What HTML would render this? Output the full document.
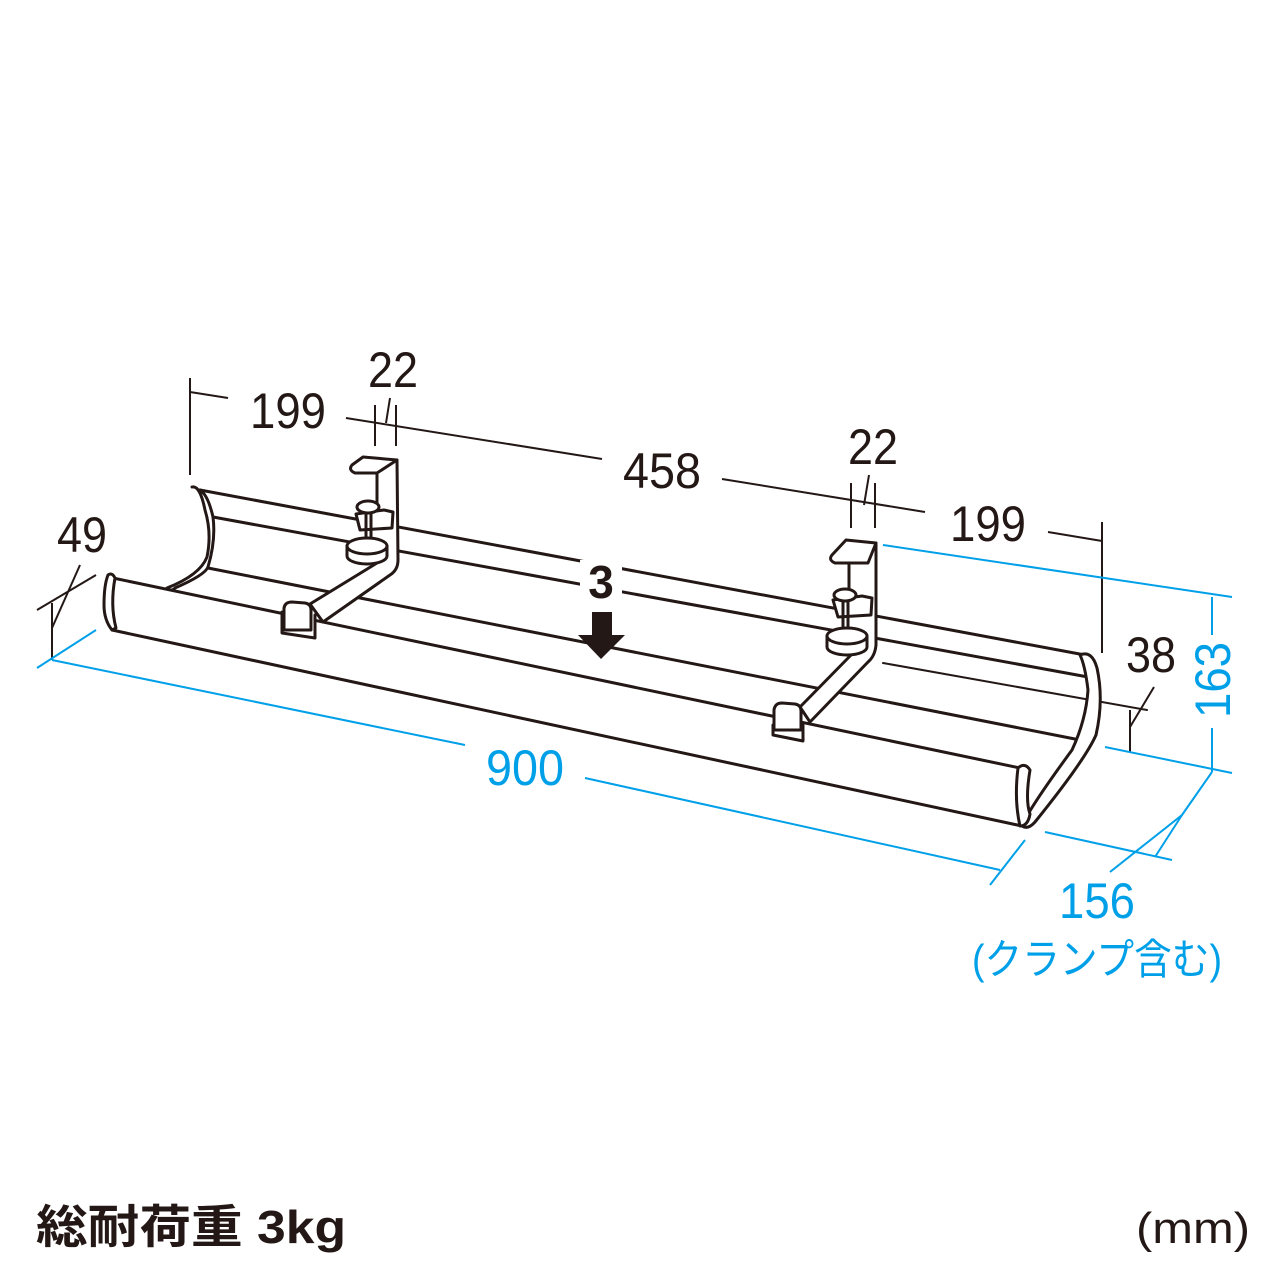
<!DOCTYPE html>
<html><head><meta charset="utf-8"><style>
html,body{margin:0;padding:0;background:#fff}
svg{display:block}
.t{font-family:"Liberation Sans Narrow","Liberation Sans",sans-serif;}
</style></head><body>
<svg width="1280" height="1280" viewBox="0 0 1280 1280" xmlns="http://www.w3.org/2000/svg">
<g fill="none" stroke="#231815" stroke-width="3" stroke-linejoin="round" stroke-linecap="round">
<!-- tray lines -->
<line x1="200" y1="490" x2="1085" y2="655"/>
<line x1="213" y1="517" x2="1088" y2="677"/>
<line x1="208" y1="568" x2="1080" y2="740"/>
<line x1="113" y1="578" x2="1020" y2="768"/>
<line x1="112" y1="630" x2="1022" y2="826"/>
<line x1="883" y1="663" x2="1147" y2="710" stroke-width="2"/>
<!-- left end -->
<path d="M192 487 Q200 485 205 510 Q212 533 207 557 Q200 575 167 588 Q172 592 175 588 Q205 575 208 567 Q216 540 213 517 Q208 495 200 490" fill="#fff"/>
<path d="M108 575 Q112 572 115 578 Q110 605 116 628 L112 630 Q104 620 104 605 Q104 585 108 575Z" fill="#fff"/>
<!-- right end -->
<path d="M1080 655 Q1092 650 1097 668 Q1104 700 1096 735 Q1085 760 1035 822 Q1028 830 1022 826 Q1028 810 1072 750 Q1086 720 1088 690 Q1085 665 1080 655Z" fill="#fff"/>
<path d="M1018 768 Q1025 762 1030 770 Q1025 800 1030 814 Q1028 826 1020 826 Q1014 800 1018 768Z" fill="#fff"/>
<!-- left clamp -->
<path d="M352 465 L363 457 L397 460 L377 473 L355 473 Q348 470 352 465Z" fill="#fff"/>
<path d="M397 460 L398 560 Q398 570 390 575 L323 622 L310 604 L377 563 L378 555" fill="#fff"/>
<line x1="377" y1="473" x2="377" y2="510"/>
<path d="M356 514 L384 510 L393 512 L392 528 L360 530 Z" fill="#fff"/>
<ellipse cx="368" cy="507" rx="11" ry="6" fill="#fff"/>
<line x1="366" y1="513" x2="366" y2="545"/><line x1="371" y1="513" x2="371" y2="545"/>
<path d="M347 546 L347 556 A20 8 0 0 0 387 556 L387 546" fill="#fff"/>
<ellipse cx="367" cy="546" rx="20" ry="8" fill="#fff"/>
<path d="M282 612 L282 633 L315 638 L315 615" fill="#fff"/>
<path d="M284 630 L284 608 Q285 602 292 602 L305 603 Q311 604 311 610 L311 630Z" fill="#fff"/>
<!-- right clamp -->
<path d="M832 555 L846 540 L876 543 L868 563 L835 563 Q828 560 832 555Z" fill="#fff"/>
<path d="M876 543 L876 645 Q875 656 868 662 L810 722 L800 707 L853 653 L856 645" fill="#fff"/>
<line x1="849" y1="563" x2="849" y2="598"/>
<path d="M833 600 L862 596 L872 598 L871 615 L838 617 Z" fill="#fff"/>
<ellipse cx="845" cy="595" rx="11" ry="6" fill="#fff"/>
<line x1="843" y1="601" x2="843" y2="636"/><line x1="848" y1="601" x2="848" y2="636"/>
<path d="M827 636 L827 647 A20 8 0 0 0 867 647 L867 636" fill="#fff"/>
<ellipse cx="847" cy="636" rx="20" ry="8" fill="#fff"/>
<path d="M773 725 L773 735 L803 741 L803 725" fill="#fff"/>
<path d="M774 730 L774 710 Q775 703 782 703 L795 704 Q801 705 801 711 L801 730Z" fill="#fff"/>
</g>
<!-- black dims -->
<g stroke="#231815" stroke-width="2" fill="none">
<line x1="190" y1="378" x2="190" y2="475"/>
<line x1="190" y1="392" x2="228" y2="398"/>
<line x1="346" y1="418" x2="602" y2="459"/>
<line x1="722" y1="479" x2="925" y2="512"/>
<line x1="1048" y1="532" x2="1102" y2="541"/>
<line x1="1102" y1="522" x2="1102" y2="653"/>
<line x1="375" y1="405" x2="375" y2="446"/><line x1="396" y1="405" x2="396" y2="446"/>
<line x1="390" y1="398" x2="386" y2="423"/>
<line x1="851" y1="483" x2="851" y2="528"/><line x1="875" y1="483" x2="875" y2="528"/>
<line x1="869" y1="475" x2="864" y2="505"/>
<line x1="52" y1="603" x2="52" y2="660"/>
<line x1="37" y1="610" x2="96" y2="575"/>
<line x1="52" y1="628" x2="80" y2="565"/>
<line x1="1130" y1="710" x2="1130" y2="752"/>
<line x1="1130" y1="727" x2="1154" y2="687"/>
</g>
<!-- blue dims -->
<g stroke="#00a0e9" stroke-width="2" fill="none">
<line x1="37" y1="668" x2="96" y2="630"/>
<line x1="52" y1="660" x2="465" y2="745"/>
<line x1="585" y1="778" x2="1000" y2="870"/>
<line x1="990" y1="885" x2="1025" y2="840"/>
<line x1="883" y1="545" x2="1232" y2="597"/>
<line x1="1105" y1="747" x2="1232" y2="773"/>
<line x1="1212" y1="597" x2="1212" y2="635"/>
<line x1="1212" y1="728" x2="1212" y2="772"/>
<line x1="1045" y1="832" x2="1172" y2="860"/>
<path d="M1110 872 L1182 815 L1212 772"/>
<line x1="1155" y1="857" x2="1182" y2="815"/>
</g>
<!-- 3 arrow -->
<rect x="580" y="560" width="42" height="42" fill="#fff"/>
<text x="601" y="598" text-anchor="middle" font-family="Liberation Sans,sans-serif" font-weight="bold" font-size="46" fill="#231815">3</text>
<path d="M592 612 L612 612 L612 635 L625 635 L601 659 L578 635 L592 635Z" fill="#231815"/>
<!-- labels -->
<g class="t" font-size="50" fill="#231815" text-anchor="middle">
<text x="393" y="387" textLength="50" lengthAdjust="spacingAndGlyphs">22</text>
<text x="288" y="428" textLength="76" lengthAdjust="spacingAndGlyphs">199</text>
<text x="662" y="488" textLength="78" lengthAdjust="spacingAndGlyphs">458</text>
<text x="873" y="464" textLength="50" lengthAdjust="spacingAndGlyphs">22</text>
<text x="988" y="541" textLength="76" lengthAdjust="spacingAndGlyphs">199</text>
<text x="82" y="552" textLength="50" lengthAdjust="spacingAndGlyphs">49</text>
<text x="1151" y="672" textLength="50" lengthAdjust="spacingAndGlyphs">38</text>
</g>
<g class="t" font-size="50" fill="#00a0e9" text-anchor="middle">
<text x="525" y="785" textLength="78" lengthAdjust="spacingAndGlyphs">900</text>
<text x="1097" y="918" textLength="76" lengthAdjust="spacingAndGlyphs">156</text>
<text transform="translate(1230,680) rotate(-90)" x="0" y="0" textLength="76" lengthAdjust="spacingAndGlyphs">163</text>
<text x="1097" y="974" font-size="42" font-family="Liberation Sans,'Noto Sans CJK JP',sans-serif" textLength="250" lengthAdjust="spacingAndGlyphs">(クランプ含む)</text>
</g>
<text x="36" y="1243" font-family="Liberation Sans,'Noto Sans CJK JP',sans-serif" font-weight="bold" font-size="46" fill="#231815" textLength="310" lengthAdjust="spacingAndGlyphs">総耐荷重 3kg</text>
<text x="1136" y="1243" font-family="Liberation Sans,sans-serif" font-size="44" fill="#231815" textLength="114" lengthAdjust="spacingAndGlyphs">(mm)</text>
</svg>
</body></html>
